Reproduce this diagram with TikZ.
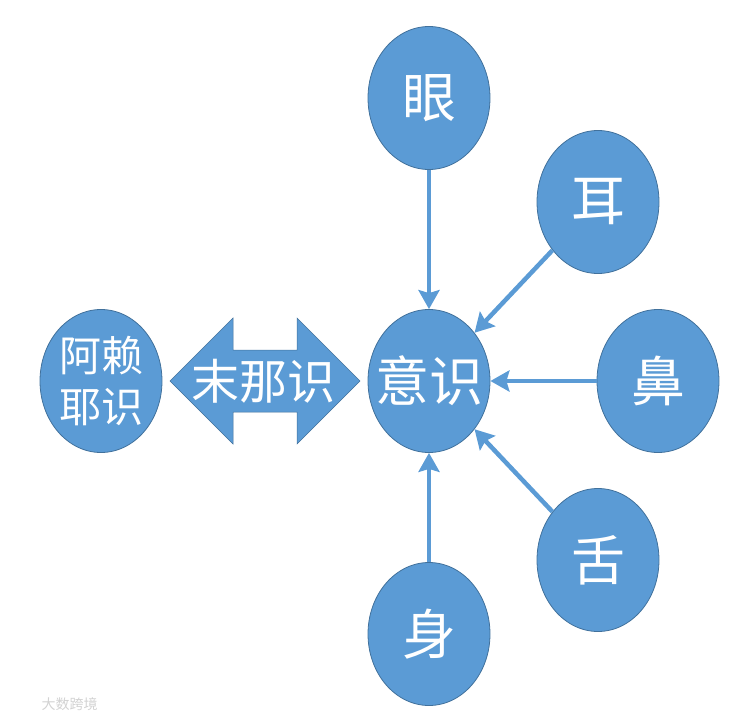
\documentclass[tikz,border=0pt]{standalone}
\usepackage{fontspec}
\setmainfont{Noto Sans CJK SC}
\usetikzlibrary{arrows.meta,shapes.geometric}
\definecolor{bubble}{HTML}{5B9BD5}
\definecolor{rim}{HTML}{41719C}
\tikzset{
  sense/.style ={ellipse,draw=rim,line width=0.8pt,fill=bubble,text=white,
                 minimum width=122pt,minimum height=143pt,inner sep=0pt,
                 align=center,font=\fontsize{54}{58}\selectfont},
  store/.style ={sense,font=\fontsize{42}{51}\selectfont},
  flow/.style  ={-{Stealth[length=19pt,width=21pt,inset=3pt]},line width=4.5pt,draw=bubble},
  wmark/.style ={text=gray!35,font=\fontsize{14}{16}\selectfont},
}

\begin{document}
\begin{tikzpicture}[x=1pt,y=-1pt]
  \useasboundingbox (0,0) rectangle (742,720);
  % six sense consciousnesses around the mind
  \node[sense] (eye)    at (429,98)  {眼};
  \node[sense] (ear)    at (598,202) {耳};
  \node[sense] (nose)   at (658,381) {鼻};
  \node[sense] (tongue) at (598,560) {舌};
  \node[sense] (body)   at (429,634) {身};
  \node[sense,inner sep=-16pt] (mind) at (429,381) {意识};
  \node[store,inner sep=-8pt] (alaya) at (101,381) {阿赖\\耶识};
  % double arrow
  \coordinate (lt) at (170,381);
  \coordinate (rt) at (360,381);
  \fill[bubble,draw=rim,line width=0.5pt] (lt) -- (233,318) -- (233,350) -- (297,350) -- (297,318)
    -- (rt) -- (297,444) -- (297,412) -- (233,412) -- (233,444) -- cycle;
  \node[text=white,font=\fontsize{48}{52}\selectfont] (manas) at (263,381) {末那识};
  \draw[flow] (eye) -- (mind);
  \draw[flow] (ear) -- (mind);
  \draw[flow] (nose) -- (mind);
  \draw[flow] (tongue) -- (mind);
  \draw[flow] (body) -- (mind);
  \node[wmark,anchor=west] (logo) at (38,704) {大数跨境};
\end{tikzpicture}
\end{document}
